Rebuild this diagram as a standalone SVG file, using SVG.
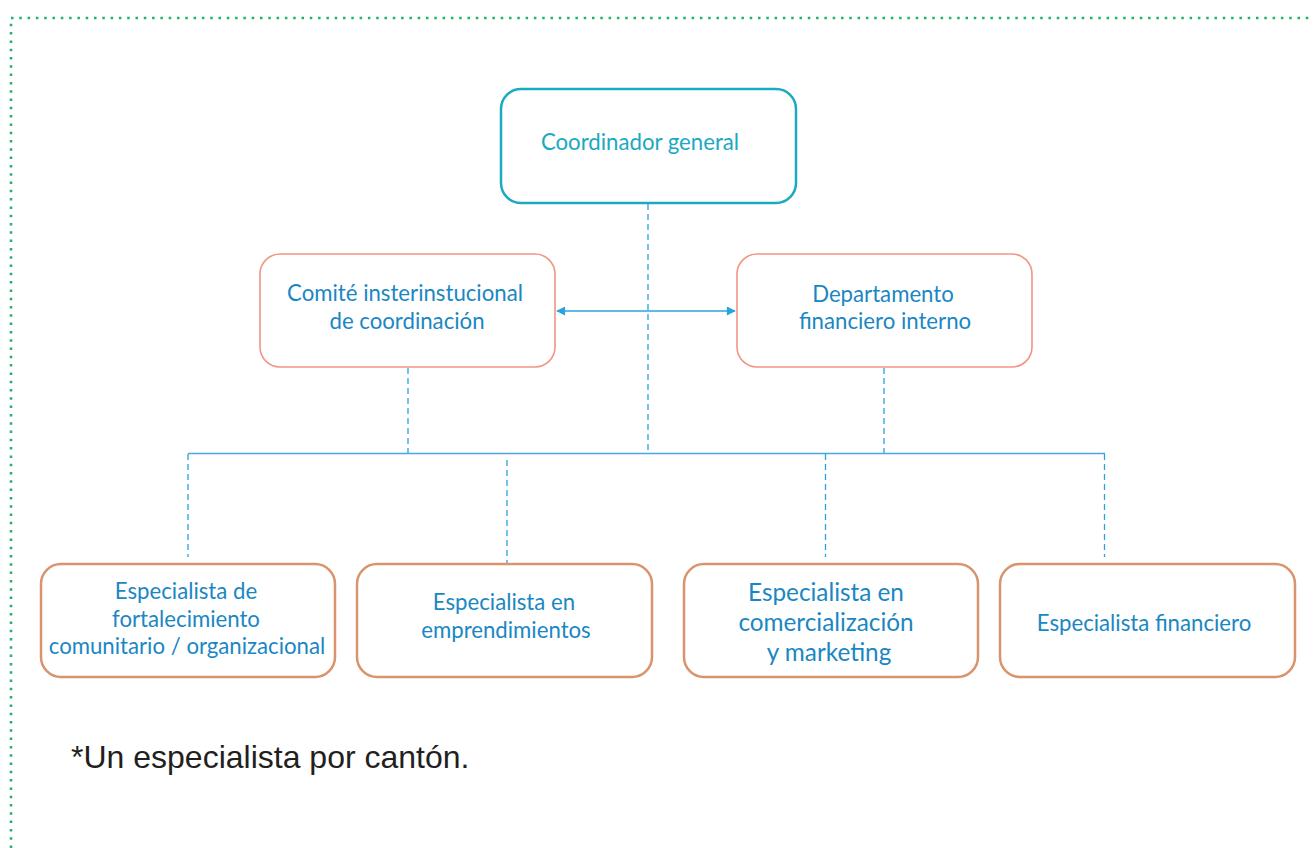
<svg xmlns="http://www.w3.org/2000/svg" width="1314" height="848" viewBox="0 0 1314 848">
<defs>
<marker id="ah" viewBox="0 0 10 10" refX="9" refY="5" markerWidth="10" markerHeight="9" orient="auto-start-reverse" markerUnits="userSpaceOnUse">
<path d="M0,0 L10,5 L0,10 z" fill="#2aa3dc"/>
</marker>
<style>
.lbl{font-family:"Lato","Open Sans","Noto Sans",sans-serif;font-size:22.2px;fill:#1a87c3;text-anchor:middle}
.big{font-size:24.3px}
.top{fill:#1aa9c1}
.box{fill:#fff;rx:20px}
.c1{stroke:#1aaac2;stroke-width:2.5}
.c2{stroke:#f19584;stroke-width:1.6}
.c3{stroke:#d9936d;stroke-width:2.5}
.dash{stroke:#2aa3dc;stroke-width:1.3;stroke-dasharray:6 4;fill:none}
.solid{stroke:#4aa8dc;stroke-width:1.5;fill:none}
.border{stroke:#1db36b;stroke-width:2.5;stroke-dasharray:2.5 5.8;fill:none}
.note{font-family:"Liberation Sans",Arial,sans-serif;font-size:32px;fill:#231f20}
</style>
</defs>
<rect width="1314" height="848" fill="#fff"/>
<path class="border" d="M11,848 L11,18 L1314,18"/>
<g id="connectors">
<line class="dash" x1="648" y1="204" x2="648" y2="453"/>
<line class="dash" x1="408" y1="368" x2="408" y2="453"/>
<line class="dash" x1="884" y1="368" x2="884" y2="453"/>
<line class="solid" x1="188" y1="453.5" x2="1105" y2="453.5"/>
<line class="dash" x1="188" y1="454" x2="188" y2="557"/>
<line class="dash" x1="507" y1="460" x2="507" y2="564"/>
<line class="dash" x1="825.5" y1="454" x2="825.5" y2="557"/>
<line class="dash" x1="1104.5" y1="454" x2="1104.5" y2="557"/>
<line stroke="#2aa3dc" stroke-width="1.5" x1="557" y1="311" x2="735" y2="311" marker-start="url(#ah)" marker-end="url(#ah)"/>
</g>
<g id="coordinador">
<rect class="box c1" x="501" y="89" width="295" height="114"/>
<text class="lbl top" x="640" y="150">Coordinador general</text>
</g>
<g id="comite">
<rect class="box c2" x="260" y="254" width="295" height="113"/>
<text class="lbl" x="405" y="301">Comité insterinstucional</text>
<text class="lbl" x="407" y="329">de coordinación</text>
</g>
<g id="departamento">
<rect class="box c2" x="737" y="254" width="295" height="113"/>
<text class="lbl" x="883" y="302">Departamento</text>
<text class="lbl" x="885" y="329">financiero interno</text>
</g>
<g id="esp-fortalecimiento">
<rect class="box c3" x="41" y="564" width="294" height="113"/>
<text class="lbl" x="186" y="599">Especialista de</text>
<text class="lbl" x="186" y="627">fortalecimiento</text>
<text class="lbl" x="187" y="654">comunitario / organizacional</text>
</g>
<g id="esp-emprendimientos">
<rect class="box c3" x="357" y="564" width="295" height="113"/>
<text class="lbl" x="504" y="610">Especialista en</text>
<text class="lbl" x="506" y="638">emprendimientos</text>
</g>
<g id="esp-comercializacion">
<rect class="box c3" x="684" y="564" width="294" height="113"/>
<text class="lbl big" x="826" y="601">Especialista en</text>
<text class="lbl big" x="826" y="631">comercialización</text>
<text class="lbl big" x="829" y="661">y marketing</text>
</g>
<g id="esp-financiero">
<rect class="box c3" x="1000" y="564" width="295" height="113"/>
<text class="lbl" x="1144" y="631">Especialista financiero</text>
</g>
<text class="note" x="71" y="768">*Un especialista por cantón.</text>
</svg>
